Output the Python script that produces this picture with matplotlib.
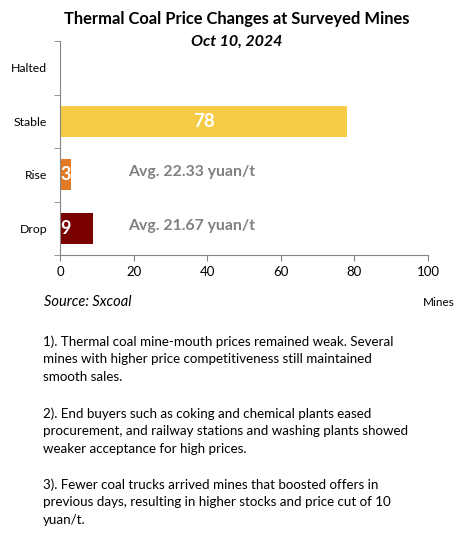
import matplotlib.pyplot as plt

plt.rcParams['font.family'] = ['Lato', 'DejaVu Sans']

# data
categories = ['Drop', 'Rise', 'Stable', 'Halted']
mines = [9, 3, 78, 0]
bar_colors = ['#7a0000', '#e37b26', '#f6cb46', '#ffffff']
avg_notes = ['Avg. 21.67 yuan/t', 'Avg. 22.33 yuan/t', '', '']

notes = [
    "1). Thermal coal mine-mouth prices remained weak. Several\nmines with higher price competitiveness still maintained\nsmooth sales.",
    "2). End buyers such as coking and chemical plants eased\nprocurement, and railway stations and washing plants showed\nweaker acceptance for high prices.",
    "3). Fewer coal trucks arrived mines that boosted offers in\nprevious days, resulting in higher stocks and price cut of 10\nyuan/t.",
]

fig = plt.figure(figsize=(4.6, 5.58), dpi=100)
ax = fig.add_axes([60/460, 1-255/558, 368/460, 214/558])

pos = range(len(categories))
bars = ax.barh(pos, mines, height=0.58, color=bar_colors)

ax.set_xlim(0, 100)
ax.set_ylim(-0.5, 3.5)
ax.set_xticks([0, 20, 40, 60, 80, 100])
ax.set_yticks(list(pos))
ax.set_yticklabels(categories)
ax.set_yticks([-0.5, 0.5, 1.5, 2.5, 3.5], minor=True)
ax.tick_params(axis='y', which='major', length=0, pad=9, labelsize=8.8)
ax.tick_params(axis='y', which='minor', length=4, color='#868686', direction='out')
ax.tick_params(axis='x', length=4, color='#868686', labelsize=9.5, pad=4)

for s in ['top', 'right']:
    ax.spines[s].set_visible(False)
for s in ['left', 'bottom']:
    ax.spines[s].set_color('#868686')

# value labels
for i, v in enumerate(mines):
    if v == 0:
        continue
    if v > 20:
        ax.text(v / 2, i, str(v), color='white', fontsize=13.5, fontweight='bold',
                ha='center', va='center')
    else:
        ax.text(0.2, i, str(v), color='white', fontsize=13, fontweight='bold',
                ha='left', va='center')
for i, t in enumerate(avg_notes):
    if t:
        ax.text(18.5, i + 0.05, t, color='#808080', fontsize=11.3, fontweight='bold',
                ha='left', va='center')

fig.text(237/460, 1-19/558, 'Thermal Coal Price Changes at Surveyed Mines',
         ha='center', va='center', fontsize=11.9, fontweight='bold')
fig.text(237/460, 1-42/558, 'Oct 10, 2024', ha='center', va='center',
         fontsize=11.5, fontweight='bold', style='italic')

fig.text(44/460, 1-302/558, 'Source: Sxcoal', ha='left', va='center',
         fontsize=10.5, style='italic')
fig.text(423/460, 1-303/558, 'Mines', ha='left', va='center', fontsize=8.5)

ys = [342, 414, 485]
for y, t in zip(ys, notes):
    fig.text(43/460, 1-(y-7)/558, t, ha='left', va='top', fontsize=9.6,
             linespacing=1.55)

fig.savefig('out.png', dpi=100)
